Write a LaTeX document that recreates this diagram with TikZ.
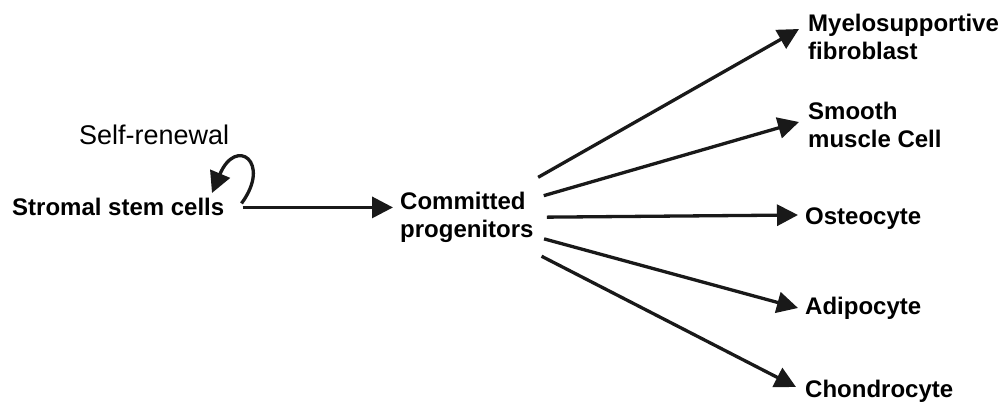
\documentclass[tikz,border=0pt]{standalone}
\usepackage{fontspec}
\setmainfont{Liberation Sans}
\usetikzlibrary{arrows.meta}
\begin{document}
\begin{tikzpicture}[x=1pt,y=-1pt,
  lbl/.style={font=\bfseries\fontsize{24}{28}\selectfont, inner sep=0pt, anchor=base west, align=left},
  note/.style={font=\fontsize{27}{30}\selectfont, inner sep=0pt, anchor=base west},
  arr/.style={line width=3.3pt, draw=black!90, -{Triangle[length=21pt,width=21pt]}},
]
\useasboundingbox (0,0) rectangle (1004,403);
% nodes (base = baseline of the last line)
\node[lbl] (ss) at (12,216) {Stromal stem cells};
\node[note] (sr) at (79,145) {Self-renewal};
\node[lbl] (cp) at (400,238) {Committed\\progenitors};
\node[lbl] (my) at (808,60) {Myelosupportive\\fibroblast};
\node[lbl] (sm) at (808,148) {Smooth\\muscle Cell};
\node[lbl] (os) at (805,225) {Osteocyte};
\node[lbl] (ad) at (805,315) {Adipocyte};
\node[lbl] (ch) at (805,397) {Chondrocyte};
% arrow tips
\coordinate (t1) at (799,29);
\coordinate (t2) at (799,122);
\coordinate (t3) at (798,215);
\coordinate (t4) at (798,308);
\coordinate (t5) at (796,387);
% connectors
\draw[arr] ([xshift=18pt]ss.east) -- ([xshift=-7pt]ss.east -| cp.west);
\draw[arr] ([shift={(17,-4)}]ss.east) .. controls (272,162) and (236,136) .. (212,193);
\draw[arr, shorten <=82pt] (cp.center) -- (t1);
\draw[arr, shorten <=80pt] (cp.center) -- (t2);
\draw[arr, shorten <=80pt] (cp.center) -- (t3);
\draw[arr, shorten <=80pt] (cp.center) -- (t4);
\draw[arr, shorten <=84pt] (cp.center) -- (t5);
\end{tikzpicture}
\end{document}
